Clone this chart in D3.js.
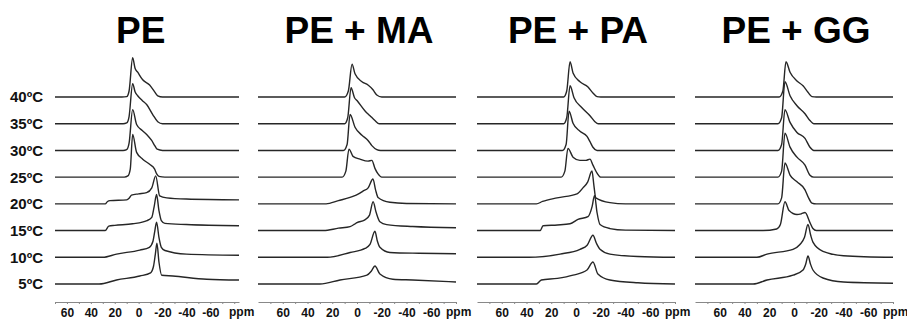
<!DOCTYPE html>
<html>
<head>
<meta charset="utf-8">
<script src="https://cdn.jsdelivr.net/npm/d3@7"></script>
<style>
  body { margin: 0; background: #fff; }
  text { font-family: "Liberation Sans", Arial, sans-serif; font-weight: bold; }
</style>
</head>
<body>
<script>
// temperatures, top trace first
var temps = ["40ºC", "35ºC", "30ºC", "25ºC", "20ºC", "15ºC", "10ºC", "5ºC"];
var titles = ["PE", "PE + MA", "PE + PA", "PE + GG"];
var tickPpm = [70, 60, 50, 40, 30, 20, 10, 0, -10, -20, -30, -40, -50, -60, -70, -80];
var labelPpm = [60, 40, 20, 0, -20, -40, -60];

// 31P spectra: [ppm, relative intensity]
var pe = [
  [[70,0],[14,0],[10,1],[8,15],[5,98],[3,72],[0.8,62],[-3.4,43],[-9.2,30],[-13.4,13],[-16,3],[-20,0],[-84,0]],
  [[70,0],[13,0],[10,2],[8,18],[5,100],[3,80],[0.8,70],[-3,58],[-6.7,48],[-11.8,23],[-16,5],[-20,0],[-84,0]],
  [[70,0],[13,0],[10,2],[8,18],[5,102],[1.7,65],[-3,50],[-6.7,40],[-10.9,25],[-13.5,12],[-15.5,3],[-20,0],[-84,0]],
  [[70,0],[12,0],[9,3],[7,20],[5,107],[1.7,62],[-3.4,45],[-9.2,32],[-13.4,20],[-15.1,8],[-17,2],[-22,0],[-84,0]],
  [[70,0],[28,0],[26,6],[24,8],[10,10],[8,14],[6,22],[0,25],[-6.7,28],[-11,40],[-14.3,70],[-17.6,20],[-23.5,15],[-40,12],[-84,10]],
  [[70,0],[28,0],[25,11],[20,13],[5,17],[-7,25],[-11,33],[-13,60],[-15,90],[-17,50],[-19,25],[-22,18],[-40,15],[-84,12]],
  [[70,0],[30,0],[18.5,8],[-1,18],[-9,25],[-12,40],[-13.5,65],[-15,88],[-17,50],[-19,25],[-22,17],[-40,8],[-84,5]],
  [[70,0],[33,0],[18.5,10],[-1,20],[-10,28],[-12.5,45],[-14,75],[-15.3,102],[-17,55],[-19.3,22],[-28.6,20],[-57,12],[-84,10]]
];
var peMa = [
  [[80,0],[10,0],[7,15],[4,82],[1.6,58],[-4,38],[-8.9,30],[-12.9,18],[-16,5],[-20,0],[-80,0]],
  [[80,0],[10,0],[7.5,15],[4.8,90],[2,65],[0,58],[-6.5,32],[-10.5,20],[-14.5,8],[-18,0],[-80,0]],
  [[80,0],[11,0],[8,15],[5.6,90],[1.6,58],[-4,38],[-8.9,25],[-12,12],[-16,2],[-19,0],[-80,0]],
  [[80,0],[12,0],[9,15],[6.5,70],[3.2,52],[-2.4,45],[-8.9,40],[-12,42],[-14.5,22],[-17,8],[-20,0],[-80,0]],
  [[80,0],[25,0],[15,8],[5.6,16],[-2,26],[-4.8,32],[-9,40],[-12.9,62],[-15,35],[-17,16],[-26.6,4],[-40,1],[-80,0]],
  [[80,0],[27,0],[15,6],[5.6,10],[2,16],[0,20],[-6,26],[-10,38],[-13,72],[-15.5,45],[-18.5,22],[-24,15],[-45,10],[-80,7]],
  [[80,0],[24,0],[5.6,12],[-6.5,22],[-10.5,32],[-14.5,65],[-16.5,40],[-18.5,25],[-26.6,12],[-50,10],[-80,9]],
  [[80,0],[30,0],[13.7,10],[-8,22],[-11.5,32],[-14.5,45],[-18.5,25],[-29,12],[-45,10],[-80,5]]
];
var pePa = [
  [[80,0],[10,0],[7.5,15],[4.8,88],[2.4,60],[-3.2,38],[-9.7,25],[-13.7,10],[-17,1],[-20,0],[-80,0]],
  [[80,0],[10,0],[7.5,15],[4.8,95],[1.6,65],[-4.8,40],[-11.3,20],[-15.3,5],[-18,0],[-80,0]],
  [[80,0],[11,0],[8,15],[5.6,98],[2.4,68],[-3.2,48],[-8.9,35],[-11.3,22],[-13.7,8],[-17,0],[-80,0]],
  [[80,0],[12,0],[9,15],[6.5,72],[2.4,50],[-3.2,42],[-8,42],[-11.3,45],[-13.7,30],[-17,10],[-20,0],[-80,0]],
  [[80,0],[32,0],[27,6],[15.3,15],[-0.8,25],[-5.6,40],[-9.5,55],[-12.9,82],[-14.5,45],[-16,15],[-27.4,3],[-40,0],[-80,0]],
  [[80,0],[29,0],[26.6,12],[15,14],[4.8,17],[-1.6,28],[-9.7,35],[-13,60],[-15,88],[-17,45],[-19.4,15],[-27.4,5],[-40,1],[-80,0]],
  [[80,0],[38,0],[12.9,8],[-3.2,20],[-9,30],[-13.7,55],[-16.5,35],[-19.4,20],[-27.4,8],[-50,2],[-80,0]],
  [[80,0],[32,0],[28,10],[15,14],[2.4,22],[-8.9,35],[-13.7,55],[-17.7,25],[-27.4,10],[-50,3],[-80,0]]
];
var peGg = [
  [[80,0],[12,0],[9,15],[6.5,88],[3.2,62],[-2.4,40],[-7.3,28],[-11.3,12],[-14.5,1],[-18,0],[-80,0]],
  [[80,0],[13,0],[10,15],[7.3,105],[3.2,70],[-2.4,45],[-8.9,25],[-12.9,8],[-16,0],[-80,0]],
  [[80,0],[13,0],[10,15],[7.3,102],[3.2,70],[-2.4,45],[-8.9,30],[-12.9,8],[-16,0],[-80,0]],
  [[80,0],[13,0],[10,15],[7.3,110],[3.2,75],[-2.4,50],[-8.9,30],[-12.9,5],[-16,0],[-80,0]],
  [[80,0],[13,0],[10,15],[7.3,102],[3.2,72],[-2.4,55],[-8.9,35],[-11.3,18],[-14.5,2],[-18,0],[-80,0]],
  [[80,0],[25,0],[14,4],[11,15],[7.3,72],[4,50],[-2.4,40],[-6,42],[-8.9,45],[-12.9,20],[-15.3,5],[-18,0],[-80,0]],
  [[80,0],[30,0],[21.8,8],[0.8,20],[-4.8,32],[-8.5,50],[-11.3,82],[-13.5,55],[-15.3,38],[-23.4,15],[-40,4],[-80,0]],
  [[80,0],[33,0],[21.8,10],[0.8,22],[-7.3,35],[-9.5,50],[-11.3,70],[-13.3,50],[-15.3,35],[-23.4,15],[-40,5],[-80,2]]
];

var panels = [
  { title: titles[0], data: pe,   domain: [70, -84], range: [55, 239] },
  { title: titles[1], data: peMa, domain: [80, -80], range: [258, 456] },
  { title: titles[2], data: pePa, domain: [80, -80], range: [477, 675] },
  { title: titles[3], data: peGg, domain: [80, -80], range: [695, 893] }
];

var svg = d3.select("body").append("svg")
  .attr("width", 907)
  .attr("height", 322);

// one baseline per temperature, stacked
var yBase = d3.scalePoint().domain(temps).range([97, 284]);
var yInt = d3.scaleLinear().domain([0, 100]).range([0, -40]);
var axisY = 302;

// temperature labels on the left
svg.selectAll(".temp")
  .data(temps)
  .enter().append("text")
  .attr("class", "temp")
  .attr("x", 43)
  .attr("y", function(d) { return yBase(d); })
  .attr("dy", "0.36em")
  .attr("text-anchor", "end")
  .attr("font-size", 15)
  .attr("fill", "#111")
  .text(function(d) { return d; });

panels.forEach(function(p) {
  var x = d3.scaleLinear().domain(p.domain).range(p.range);
  var g = svg.append("g");

  g.append("text")
    .attr("x", x(0) + 2)
    .attr("y", 43)
    .attr("text-anchor", "middle")
    .attr("font-size", 37)
    .attr("fill", "#000")
    .text(p.title);

  p.data.forEach(function(spec, i) {
    var base = yBase(temps[i]);
    var line = d3.line()
      .x(function(d) { return x(d[0]); })
      .y(function(d) { return base + yInt(d[1]); })
      .curve(d3.curveMonotoneX);
    g.append("path")
      .datum(spec)
      .attr("d", line)
      .attr("fill", "none")
      .attr("stroke", "#262626")
      .attr("stroke-width", 1.4)
      .attr("stroke-linejoin", "round");
  });

  var ticks = tickPpm.filter(function(t) { return t <= p.domain[0] && t >= p.domain[1]; });
  var axis = d3.axisBottom(x)
    .tickValues(ticks)
    .tickSize(2)
    .tickSizeOuter(0)
    .tickPadding(4)
    .tickFormat(function(d) { return labelPpm.indexOf(d) >= 0 ? String(d) : ""; });

  var ax = g.append("g")
    .attr("transform", "translate(0," + axisY + ")")
    .call(axis);
  ax.select(".domain").attr("stroke", "#888");
  ax.selectAll(".tick line").attr("stroke", "#888");
  ax.selectAll(".tick text")
    .attr("font-size", 12)
    .attr("font-family", "Liberation Sans, Arial, sans-serif")
    .attr("font-weight", "bold")
    .attr("fill", "#111");

  g.append("text")
    .attr("x", p.range[1] - 10)
    .attr("y", 316)
    .attr("font-size", 12)
    .attr("fill", "#111")
    .text("ppm");
});
</script>
</body>
</html>
